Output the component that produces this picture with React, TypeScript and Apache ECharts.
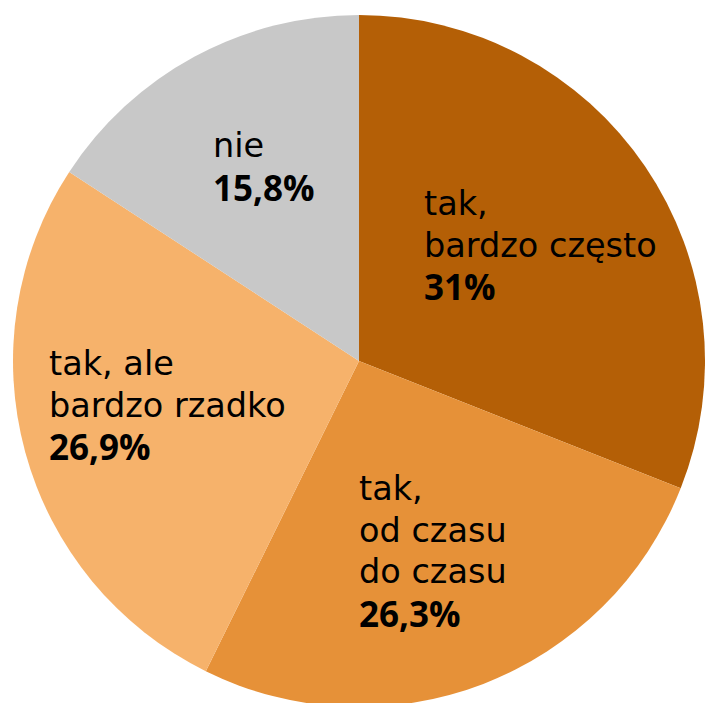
import React, { useEffect, useRef } from "react";
import * as echarts from "echarts";

const categories = ["tak,\nbardzo często", "tak,\nod czasu\ndo czasu", "tak, ale\nbardzo rzadko", "nie"];
const values = [31, 26.3, 26.9, 15.8];
const colors = ["#B45F06", "#E69138", "#F6B26B", "#C8C8C8"];
// top-left anchor of each label block (layout only)
const labelAnchors: [number, number][] = [
  [424, 183],
  [359, 468],
  [49, 343],
  [213, 125],
];

const FONT = "'DejaVu Sans', 'Open Sans', sans-serif";
const BOLD_FONT = "'Open Sans', 'Noto Sans', sans-serif";

export default function App() {
  const ref = useRef<HTMLDivElement>(null);
  useEffect(() => {
    if (!ref.current) return;
    const chart = echarts.init(ref.current, null, { renderer: "svg" });
    chart.setOption({
      animation: false,
      backgroundColor: "#ffffff",
      series: [
        {
          type: "pie",
          center: [359, 361],
          radius: [0, 346],
          startAngle: 90,
          clockwise: true,
          silent: true,
          emphasis: { disabled: true },
          itemStyle: { borderWidth: 0 },
          labelLine: { show: false },
          label: {
            show: true,
            position: "inside",
            color: "#000",
            formatter: (p: any) => {
              const lines = String(p.name).split("\n").map((l: string) => `{n|${l}}`);
              const pct = String(p.value).replace(".", ",") + "%";
              return lines.join("\n") + "\n" + `{p|${pct}}`;
            },
            rich: {
              n: { fontFamily: FONT, fontSize: 33.5, lineHeight: 41.5, color: "#000", fontWeight: "normal" },
              p: { fontFamily: BOLD_FONT, fontSize: 35, lineHeight: 41.5, color: "#000", fontWeight: "bold" },
            },
          },
          labelLayout: (params: any) => {
            const a = labelAnchors[params.dataIndex];
            return { x: a[0], y: a[1], align: "left", verticalAlign: "top" };
          },
          data: categories.map((name, i) => ({
            name,
            value: values[i],
            itemStyle: { color: colors[i] },
          })),
        },
      ],
    });
    return () => chart.dispose();
  }, []);
  return (
    <div
      ref={ref}
      style={{ position: "absolute", left: 0, top: 0, width: 705, height: 703 }}
    />
  );
}
